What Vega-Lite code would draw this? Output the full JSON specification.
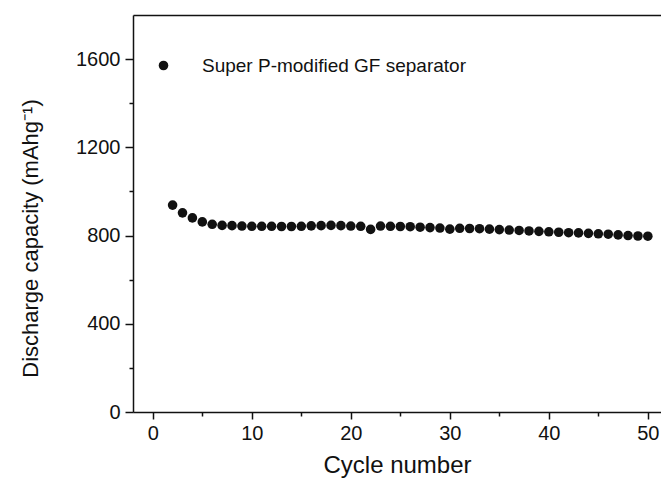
{
  "$schema": "https://vega.github.io/schema/vega-lite/v6.json",
  "width": 528,
  "height": 397,
  "autosize": {"type": "none"},
  "padding": {"left": 133, "top": 15, "right": 0, "bottom": 72},
  "background": "white",
  "config": {
    "view": {"stroke": null},
    "font": "Liberation Sans",
    "axis": {
      "domainColor": "#111111",
      "domainWidth": 1.5,
      "tickColor": "#111111",
      "tickWidth": 1.5,
      "labelColor": "#111111",
      "titleColor": "#111111",
      "labelFont": "Liberation Sans",
      "titleFont": "Liberation Sans",
      "labelFontSize": 20,
      "titleFontSize": 24,
      "titleFontWeight": "normal",
      "grid": false
    }
  },
  "data": {
    "values": [
      {"cycle": 2, "capacity": 938, "series": "Super P-modified GF separator"},
      {"cycle": 3, "capacity": 903, "series": "Super P-modified GF separator"},
      {"cycle": 4, "capacity": 880, "series": "Super P-modified GF separator"},
      {"cycle": 5, "capacity": 862, "series": "Super P-modified GF separator"},
      {"cycle": 6, "capacity": 851, "series": "Super P-modified GF separator"},
      {"cycle": 7, "capacity": 846, "series": "Super P-modified GF separator"},
      {"cycle": 8, "capacity": 845, "series": "Super P-modified GF separator"},
      {"cycle": 9, "capacity": 843, "series": "Super P-modified GF separator"},
      {"cycle": 10, "capacity": 842, "series": "Super P-modified GF separator"},
      {"cycle": 11, "capacity": 842, "series": "Super P-modified GF separator"},
      {"cycle": 12, "capacity": 842, "series": "Super P-modified GF separator"},
      {"cycle": 13, "capacity": 841, "series": "Super P-modified GF separator"},
      {"cycle": 14, "capacity": 841, "series": "Super P-modified GF separator"},
      {"cycle": 15, "capacity": 842, "series": "Super P-modified GF separator"},
      {"cycle": 16, "capacity": 844, "series": "Super P-modified GF separator"},
      {"cycle": 17, "capacity": 845, "series": "Super P-modified GF separator"},
      {"cycle": 18, "capacity": 846, "series": "Super P-modified GF separator"},
      {"cycle": 19, "capacity": 845, "series": "Super P-modified GF separator"},
      {"cycle": 20, "capacity": 843, "series": "Super P-modified GF separator"},
      {"cycle": 21, "capacity": 842, "series": "Super P-modified GF separator"},
      {"cycle": 22, "capacity": 828, "series": "Super P-modified GF separator"},
      {"cycle": 23, "capacity": 843, "series": "Super P-modified GF separator"},
      {"cycle": 24, "capacity": 842, "series": "Super P-modified GF separator"},
      {"cycle": 25, "capacity": 841, "series": "Super P-modified GF separator"},
      {"cycle": 26, "capacity": 840, "series": "Super P-modified GF separator"},
      {"cycle": 27, "capacity": 838, "series": "Super P-modified GF separator"},
      {"cycle": 28, "capacity": 836, "series": "Super P-modified GF separator"},
      {"cycle": 29, "capacity": 834, "series": "Super P-modified GF separator"},
      {"cycle": 30, "capacity": 829, "series": "Super P-modified GF separator"},
      {"cycle": 31, "capacity": 833, "series": "Super P-modified GF separator"},
      {"cycle": 32, "capacity": 832, "series": "Super P-modified GF separator"},
      {"cycle": 33, "capacity": 831, "series": "Super P-modified GF separator"},
      {"cycle": 34, "capacity": 829, "series": "Super P-modified GF separator"},
      {"cycle": 35, "capacity": 827, "series": "Super P-modified GF separator"},
      {"cycle": 36, "capacity": 825, "series": "Super P-modified GF separator"},
      {"cycle": 37, "capacity": 823, "series": "Super P-modified GF separator"},
      {"cycle": 38, "capacity": 821, "series": "Super P-modified GF separator"},
      {"cycle": 39, "capacity": 819, "series": "Super P-modified GF separator"},
      {"cycle": 40, "capacity": 817, "series": "Super P-modified GF separator"},
      {"cycle": 41, "capacity": 815, "series": "Super P-modified GF separator"},
      {"cycle": 42, "capacity": 813, "series": "Super P-modified GF separator"},
      {"cycle": 43, "capacity": 812, "series": "Super P-modified GF separator"},
      {"cycle": 44, "capacity": 810, "series": "Super P-modified GF separator"},
      {"cycle": 45, "capacity": 808, "series": "Super P-modified GF separator"},
      {"cycle": 46, "capacity": 806, "series": "Super P-modified GF separator"},
      {"cycle": 47, "capacity": 803, "series": "Super P-modified GF separator"},
      {"cycle": 48, "capacity": 800, "series": "Super P-modified GF separator"},
      {"cycle": 49, "capacity": 798, "series": "Super P-modified GF separator"},
      {"cycle": 50, "capacity": 797, "series": "Super P-modified GF separator"}
    ]
  },
  "layer": [
    {
      "mark": {"type": "point", "filled": true, "size": 92, "opacity": 1},
      "encoding": {
        "x": {
          "field": "cycle",
          "type": "quantitative",
          "scale": {"domain": [-2, 51.33], "nice": false, "zero": false},
          "axis": {
            "orient": "bottom",
            "title": "Cycle number",
            "values": [0, 5, 10, 15, 20, 25, 30, 35, 40, 45, 50],
            "labelExpr": "datum.value % 10 === 0 ? datum.label : ''",
            "tickSize": {"condition": {"test": "datum.value % 10 === 0", "value": 7}, "value": 4},
            "labelPadding": 4,
            "titlePadding": 10
          }
        },
        "y": {
          "field": "capacity",
          "type": "quantitative",
          "scale": {"domain": [0, 1800], "nice": false},
          "axis": {
            "title": "Discharge capacity (mAhg⁻¹)",
            "titleFontSize": 22,
            "values": [0, 200, 400, 600, 800, 1000, 1200, 1400, 1600],
            "labelExpr": "datum.value % 400 === 0 ? datum.label : ''",
            "format": "d",
            "tickSize": {"condition": {"test": "datum.value % 400 === 0", "value": 8}, "value": 4},
            "labelPadding": 5,
            "titleX": -96,
            "titleY": 223,
            "titleBaseline": "alphabetic",
            "titleAngle": -90
          }
        },
        "color": {
          "field": "series",
          "type": "nominal",
          "scale": {"range": ["#111111"]},
          "legend": {
            "title": null,
            "orient": "none",
            "legendX": 21,
            "legendY": 41,
            "padding": 0,
            "symbolType": "circle",
            "symbolSize": 92,
            "symbolStrokeWidth": 0,
            "labelFont": "Liberation Sans",
            "labelFontSize": 19,
            "labelColor": "#111111",
            "labelOffset": 29,
            "labelLimit": 400
          }
        }
      }
    },
    {
      "mark": {"type": "point", "opacity": 0},
      "encoding": {
        "x": {
          "field": "cycle",
          "type": "quantitative",
          "axis": {"orient": "top", "title": null, "labels": false, "ticks": false, "domain": true}
        },
        "y": {"field": "capacity", "type": "quantitative"}
      }
    }
  ],
  "resolve": {"axis": {"x": "independent"}}
}
